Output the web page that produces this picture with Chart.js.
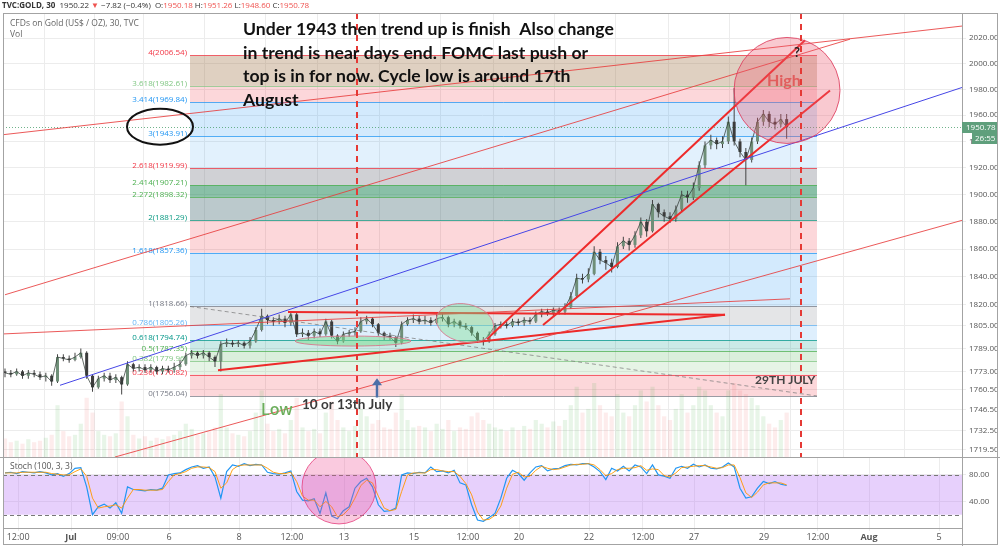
<!DOCTYPE html>
<html>
<head>
<meta charset="utf-8">
<title>TVC:GOLD, 30</title>
<script src="https://cdn.jsdelivr.net/npm/chart.js@4.4.1/dist/chart.umd.min.js"></script>
<style>
  html, body { margin: 0; padding: 0; background: #fff; }
  #wrap { position: relative; width: 1000px; height: 546px; overflow: hidden; font-family: "Open Sans", sans-serif; }
  canvas { position: absolute; left: 0; }
  #priceCanvas { top: 0; }
  #stochCanvas { top: 457px; }
  #frame { position: absolute; left: 3px; top: 13px; width: 995px; height: 532px; box-sizing: border-box; border: 1px solid #a3a3a3; pointer-events: none; }
  #hdr { position: absolute; left: 2px; top: -1px; font-size: 8px; line-height: 12px; color: #333; white-space: nowrap; }
  #hdr .r { color: #ef5350; }
  #legend { position: absolute; left: 10px; top: 17px; font-size: 8.5px; line-height: 11px; color: #666; }
</style>
</head>
<body>
<div id="wrap">
  <canvas id="priceCanvas" width="1000" height="457"></canvas>
  <canvas id="stochCanvas" width="1000" height="89"></canvas>
  <div id="frame"></div>
  <div id="hdr"><b>TVC:GOLD, 30</b>&nbsp; 1950.22 <span class="r">▼</span> −7.82 (−0.4%)&nbsp; O:<span class="r">1950.18</span> H:<span class="r">1951.26</span> L:<span class="r">1948.60</span> C:<span class="r">1950.78</span></div>
  <div id="legend">CFDs on Gold (US$ / OZ), 30, TVC<br>Vol</div>
</div>
<script>
// time unit = trading days, 0 = Jul 6; one candle every 4 hours
const firstDay = -4.686;
const barStep = 1 / 6;
const firstOpen = 1773;

const closes = [
  1772,1771,1773,1770,1772,1771,1769,1770,1766,1783,
  1782,1781,1783,1786,1770,1762,1768,1770,1767,1769,
  1764,1778,1775,1776,1774,1776,1773,1775,1774,1776,
  1778,1784,1786,1784,1786,1783,1780,1792,1793,1792,
  1793,1791,1794,1802,1812,1809,1808,1810,1807,1813,
  1799,1800,1798,1801,1799,1808,1798,1794,1799,1800,
  1801,1808,1810,1806,1800,1798,1797,1793,1806,1809,
  1810,1808,1809,1807,1810,1811,1806,1808,1805,1804,
  1800,1795,1794,1799,1805,1806,1805,1808,1807,1809,
  1808,1813,1815,1814,1816,1815,1818,1826,1839,1838,
  1842,1858,1852,1850,1847,1862,1866,1863,1870,1880,
  1873,1893,1887,1884,1882,1889,1900,1898,1905,1922,
  1937,1941,1938,1940,1955,1940,1932,1926,1940,1955,
  1961,1955,1953,1957,1950.78
];
const highs = [
  1775,1774,1775,1774,1774,1774,1773,1772,1771,1785,
  1785,1784,1786,1789,1787,1771,1770,1772,1772,1771,
  1770,1780,1779,1778,1778,1778,1777,1777,1777,1779,
  1781,1786,1788,1787,1788,1787,1784,1794,1796,1795,
  1795,1794,1797,1804,1817,1813,1811,1813,1812,1815,
  1814,1803,1802,1803,1803,1810,1809,1799,1801,1802,
  1804,1811,1812,1811,1807,1801,1800,1798,1808,1811,
  1813,1812,1812,1811,1813,1814,1812,1810,1809,1807,
  1805,1801,1797,1801,1807,1808,1808,1810,1810,1811,
  1811,1815,1817,1817,1818,1818,1821,1829,1842,1842,
  1846,1862,1860,1855,1853,1865,1869,1868,1873,1883,
  1882,1896,1894,1889,1887,1892,1903,1903,1909,1925,
  1940,1945,1943,1944,1959,1981,1942,1935,1943,1958,
  1964,1963,1958,1961,1961
];
const lows = [
  1769,1769,1770,1768,1768,1769,1767,1766,1763,1765,
  1780,1779,1780,1782,1768,1759,1761,1766,1765,1765,
  1757,1763,1773,1773,1772,1772,1771,1771,1772,1772,
  1774,1777,1782,1782,1782,1780,1776,1773,1790,1790,
  1790,1789,1789,1793,1801,1806,1805,1806,1804,1805,
  1797,1797,1795,1796,1797,1798,1796,1792,1793,1797,
  1798,1800,1806,1804,1798,1795,1795,1790,1792,1805,
  1807,1806,1806,1805,1806,1808,1804,1804,1803,1802,
  1798,1793,1791,1793,1798,1803,1803,1804,1805,1805,
  1806,1807,1811,1812,1812,1813,1813,1817,1825,1835,
  1836,1841,1849,1845,1843,1846,1860,1859,1861,1868,
  1869,1872,1883,1880,1879,1880,1887,1894,1896,1903,
  1920,1934,1934,1935,1938,1937,1928,1907,1924,1938,
  1952,1951,1949,1951,1942
];
const volumes = [
  25,20,22,18,24,20,22,26,30,70,
  35,28,30,45,80,60,35,30,28,32,
  75,55,30,25,28,22,26,24,28,30,
  35,45,38,30,32,35,40,85,40,32,
  30,28,35,60,90,45,35,38,32,50,
  80,40,35,38,32,60,75,50,40,35,
  42,65,55,45,50,40,38,60,85,50,
  40,42,40,35,45,38,50,35,40,38,
  55,60,50,45,40,38,35,40,36,42,
  38,50,45,40,48,42,50,70,95,60,
  65,100,70,60,55,85,60,55,70,90,
  75,95,70,55,50,65,85,60,70,95,
  90,70,60,55,90,100,90,85,80,70,
  55,45,40,50,60
];
const stochK = [
  83,84,82,85,84,83,85,83,80,82,
  78,82,90,91,62,20,32,36,30,38,
  22,62,58,57,56,58,57,60,80,82,
  83,88,92,94,90,92,77,45,85,95,
  93,97,94,96,95,84,82,81,83,86,
  55,42,41,44,22,53,18,14,26,32,
  60,70,75,62,35,25,26,30,80,83,
  82,84,83,92,85,86,83,87,68,65,
  35,12,10,16,22,45,75,87,82,72,
  83,92,94,86,89,90,94,96,95,97,
  97,92,85,73,90,86,93,86,95,92,
  82,95,80,78,75,90,93,90,96,92,
  95,90,89,92,98,92,60,45,47,60,
  70,67,70,66,64
];
const stochD = [
  83,83,83,84,84,84,84,84,82,81,
  80,80,85,89,78,45,30,32,33,35,
  30,45,58,58,57,57,57,58,70,80,
  82,85,90,92,92,91,85,60,68,88,
  94,95,95,95,95,90,84,82,82,84,
  70,48,42,42,32,40,32,17,20,29,
  45,64,72,68,48,30,26,28,55,80,
  83,83,83,88,88,86,85,85,78,67,
  50,24,12,13,19,33,60,81,84,77,
  78,87,93,90,88,89,92,95,96,96,
  97,95,88,79,82,88,90,90,91,94,
  87,89,88,79,77,83,91,92,93,94,
  94,92,90,91,95,95,76,53,46,54,
  65,68,68,68,65
];
const lastPrice = 1950.78;

const timeTickPos = [-4.31, -2.8, -1.46, 0, 2, 3.51, 5, 7, 8.54, 10, 12, 13.54, 15, 17, 18.54, 20, 22];
const timeTickText = ['12:00', 'Jul', '09:00', '6', '8', '12:00', '13', '15', '12:00', '20', '22', '12:00', '27', '29', '12:00', 'Aug', '5'];
const priceTicks = [2020, 2000, 1980, 1960, 1940, 1920, 1900, 1880, 1860, 1840, 1820, 1805, 1789, 1773, 1760.5, 1746.5, 1732.5, 1719.5];
const stochTicks = [80, 40];
const stochBand = [20, 80];

const fibLevels = [0, 0.236, 0.382, 0.5, 0.618, 0.786, 1, 1.618, 2, 2.272, 2.414, 2.618, 3, 3.414, 3.618, 4];
const fibPrices = [1756.04, 1770.82, 1779.96, 1787.35, 1794.74, 1805.26, 1818.66, 1857.36, 1881.29, 1898.32, 1907.21, 1919.99, 1943.91, 1969.84, 1982.61, 2006.54];
const fibSpan = [0.6, 18.514];

// drawings: [day, price] end points
const trendLines = [
  { from: [-4.743, 1799.2], to: [17.743, 1824.1], color: 'rgba(232,60,60,0.85)', width: 1 },
  { from: [-1.543, 1714.6], to: [22.657, 1881.0], color: 'rgba(232,60,60,0.85)', width: 1 },
  { from: [-4.686, 1827.0], to: [19.457, 2019.2], color: 'rgba(232,60,60,0.85)', width: 1 },
  { from: [-4.743, 1945.1], to: [22.657, 2029.6], color: 'rgba(232,60,60,0.85)', width: 1 },
  { from: [-3.114, 1763.4], to: [22.657, 1981.4], color: '#4646e6', width: 1 },
  { from: [9.086, 1795.6], to: [18.171, 2018.4], color: '#ee2a2a', width: 2 },
  { from: [10.686, 1805.5], to: [18.886, 1979.1], color: '#ee2a2a', width: 2 },
  { from: [3.4, 1814.8], to: [15.886, 1812.7], color: '#ee2a2a', width: 2 },
  { from: [1.4, 1773.8], to: [15.886, 1812.7], color: '#ee2a2a', width: 2 },
  { from: [0.6, 1818.66], to: [18.514, 1756.04], color: 'rgba(120,120,120,0.7)', width: 1, dash: [4, 3] }
];
const markDays = [5.371, 18.057];

const fibBandColors = [
  'rgba(242,54,69,0.2)', 'rgba(129,199,132,0.2)', 'rgba(76,175,80,0.2)', 'rgba(0,150,136,0.2)',
  'rgba(33,150,243,0.15)', 'rgba(120,123,134,0.2)', 'rgba(33,150,243,0.2)', 'rgba(242,54,69,0.2)',
  'rgba(60,100,110,0.35)', 'rgba(20,130,80,0.5)', 'rgba(120,123,134,0.35)', 'rgba(33,150,243,0.13)',
  'rgba(33,150,243,0.2)', 'rgba(242,54,69,0.2)', 'rgba(150,100,50,0.3)'
];
const fibLineColors = ['#787b86', '#f23645', '#81c784', '#4caf50', '#009688', '#64b5f6', '#787b86', '#2196f3',
  '#089981', '#4caf50', '#4caf50', '#f23645', '#2196f3', '#2196f3', '#81c784', '#f23645'];

const shapes = [
  { at: [17.657, 1979.1], rx: 53, ry: 53, rot: 0, fill: 'rgba(236,92,112,0.33)', stroke: 'rgba(222,64,96,0.85)', lw: 1 },
  { at: [8.457, 1806.9], rx: 29, ry: 19, rot: 0.2, fill: 'rgba(120,220,140,0.4)', stroke: 'rgba(214,120,140,0.9)', lw: 1 },
  { at: [5.257, 1794.2], rx: 58, ry: 5, rot: 0, fill: 'rgba(120,220,140,0.5)', stroke: 'rgba(214,120,140,0.9)', lw: 1 },
  { at: [-0.257, 1951.2], rx: 33, ry: 18, rot: 0, fill: null, stroke: '#111', lw: 2 }
];
const notes = [
  { text: 'High', at: [17.086, 1982.2], font: 'bold 16px Lato', color: 'rgba(224,80,80,0.85)' },
  { text: '?', at: [17.857, 2004.9], font: 'bold 13px Lato', color: '#222' },
  { text: 'Low', at: [2.629, 1742.9], font: '600 16px "Open Sans"', color: '#6cae5c' },
  { text: '10 or 13th July', at: [3.8, 1747.4], font: 'bold 13.5px Lato', color: '#3a3a3a' },
  { text: '29TH JULY', at: [16.743, 1764.1], font: 'bold 12px Lato', color: '#444' }
];
const commentLines = [
  'Under 1943 then trend up is finish  Also change',
  'in trend is near days end. FOMC last push or',
  'top is in for now. Cycle low is around 17th',
  'August'
];
const commentAt = [2.114, 2022.4];
const arrowSpan = [5.943, 1755, 1768.3];

const days = closes.map((c, i) => firstDay + i * barStep);
const opens = closes.map((c, i) => i ? closes[i - 1] : firstOpen);
const isUp = closes.map((c, i) => c >= opens[i]);

const gridColor = '#ececec';
const axisColor = '#a3a3a3';

function timeAxis(showLabels) {
  return {
    type: 'linear', min: -4.743, max: 22.657, offset: false,
    afterBuildTicks: s => { s.ticks = timeTickPos.map(v => ({ value: v })); },
    afterFit: s => { s.height = showLabels ? 16 : 0; s.paddingLeft = 0; s.paddingRight = 0; },
    ticks: {
      display: showLabels, autoSkip: false, maxRotation: 0, padding: 1, color: '#555',
      font: c => ({ family: 'Open Sans', size: 9, weight: (timeTickText[c.index] === 'Jul' || timeTickText[c.index] === 'Aug') ? 'bold' : 'normal' }),
      callback: (v, i) => timeTickText[i]
    },
    grid: { color: gridColor, drawTicks: showLabels, tickLength: 3 },
    border: { display: showLabels, color: axisColor }
  };
}

function rightAxis(opts) {
  return Object.assign({
    position: 'right',
    afterFit: s => { s.width = 35; s.paddingTop = 0; s.paddingBottom = 0; },
    ticks: { autoSkip: false, color: '#555', padding: 3, font: { family: 'Open Sans', size: 8 }, callback: v => Number(v).toFixed(2) },
    grid: { color: gridColor, tickLength: 4 },
    border: { color: axisColor }
  }, opts);
}

function ellipse(ctx, cx, cy, s) {
  ctx.beginPath();
  ctx.ellipse(cx, cy, s.rx, s.ry, s.rot, 0, Math.PI * 2);
  if (s.fill) { ctx.fillStyle = s.fill; ctx.fill(); }
  if (s.stroke) { ctx.strokeStyle = s.stroke; ctx.lineWidth = s.lw; ctx.stroke(); }
}

const drawings = {
  id: 'drawings',
  beforeDatasetsDraw(chart) {
    const { ctx, chartArea: a, scales: { x, y } } = chart;
    ctx.save();
    ctx.beginPath(); ctx.rect(a.left, a.top, a.width, a.height); ctx.clip();
    const fx0 = x.getPixelForValue(fibSpan[0]), fx1 = x.getPixelForValue(fibSpan[1]);
    for (let i = 1; i < fibPrices.length; i++) {
      const top = y.getPixelForValue(fibPrices[i]);
      const bot = y.getPixelForValue(fibPrices[i - 1]);
      ctx.fillStyle = fibBandColors[i - 1];
      ctx.fillRect(fx0, top, fx1 - fx0, bot - top);
    }
    ctx.lineWidth = 1;
    ctx.font = '8px "Open Sans"';
    ctx.textAlign = 'right';
    ctx.textBaseline = 'alphabetic';
    fibPrices.forEach((p, i) => {
      const py = Math.round(y.getPixelForValue(p)) + 0.5;
      ctx.strokeStyle = fibLineColors[i];
      ctx.globalAlpha = 0.75;
      ctx.beginPath(); ctx.moveTo(fx0, py); ctx.lineTo(fx1, py); ctx.stroke();
      ctx.globalAlpha = 1;
      ctx.fillStyle = fibLineColors[i];
      ctx.fillText(fibLevels[i] + '(' + p.toFixed(2) + ')', fx0 - 3, py - 1);
    });
    const ly = Math.round(y.getPixelForValue(lastPrice)) + 0.5;
    ctx.setLineDash([1, 2]);
    ctx.strokeStyle = 'rgba(76,160,110,0.8)';
    ctx.beginPath(); ctx.moveTo(a.left, ly); ctx.lineTo(a.right, ly); ctx.stroke();
    ctx.restore();
  },
  afterDatasetsDraw(chart) {
    const { ctx, chartArea: a, scales: { x, y } } = chart;
    ctx.save();
    ctx.beginPath(); ctx.rect(a.left, a.top, a.width, a.height); ctx.clip();
    shapes.forEach(s => ellipse(ctx, x.getPixelForValue(s.at[0]), y.getPixelForValue(s.at[1]), s));
    ctx.setLineDash([6, 5]);
    ctx.strokeStyle = '#e53935';
    ctx.lineWidth = 2;
    markDays.forEach(d => {
      const px = Math.round(x.getPixelForValue(d));
      ctx.beginPath(); ctx.moveTo(px, a.top); ctx.lineTo(px, a.bottom); ctx.stroke();
    });
    ctx.setLineDash([]);
    // arrow
    const ax = x.getPixelForValue(arrowSpan[0]);
    const ay0 = y.getPixelForValue(arrowSpan[1]), ay1 = y.getPixelForValue(arrowSpan[2]);
    ctx.strokeStyle = '#4b6fa8'; ctx.fillStyle = '#4b6fa8'; ctx.lineWidth = 2.5;
    ctx.beginPath(); ctx.moveTo(ax, ay0); ctx.lineTo(ax, ay1 + 5); ctx.stroke();
    ctx.beginPath(); ctx.moveTo(ax, ay1); ctx.lineTo(ax - 5, ay1 + 7); ctx.lineTo(ax + 5, ay1 + 7); ctx.closePath(); ctx.fill();
    // notes
    ctx.textAlign = 'left';
    ctx.textBaseline = 'alphabetic';
    notes.forEach(n => {
      ctx.font = n.font; ctx.fillStyle = n.color;
      ctx.fillText(n.text, x.getPixelForValue(n.at[0]), y.getPixelForValue(n.at[1]));
    });
    ctx.font = 'bold 17.6px Lato';
    ctx.fillStyle = '#111';
    const cx = x.getPixelForValue(commentAt[0]), cy = y.getPixelForValue(commentAt[1]);
    commentLines.forEach((t, i) => ctx.fillText(t, cx, cy + i * 23.5));
    ctx.restore();
  },
  afterDraw(chart) {
    const { ctx, chartArea: a, scales: { y } } = chart;
    const ly = Math.round(y.getPixelForValue(lastPrice));
    ctx.save();
    ctx.fillStyle = '#5f9f7c';
    ctx.fillRect(a.right, ly - 5, 35, 11);
    ctx.fillRect(a.right + 10, ly + 6, 25, 11);
    ctx.fillStyle = '#fff';
    ctx.font = '8px "Open Sans"';
    ctx.textAlign = 'left';
    ctx.textBaseline = 'middle';
    ctx.fillText(lastPrice.toFixed(2), a.right + 4, ly + 0.5);
    ctx.fillText('26:55', a.right + 13, ly + 11.5);
    ctx.restore();
  }
};

new Chart(document.getElementById('priceCanvas'), {
  type: 'bar',
  data: {
    datasets: [
      ...trendLines.map(t => ({
        type: 'line', yAxisID: 'y', order: 0,
        data: [{ x: t.from[0], y: t.from[1] }, { x: t.to[0], y: t.to[1] }],
        borderColor: t.color, borderWidth: t.width, borderDash: t.dash || [], pointRadius: 0
      })),
      {
        type: 'line', label: 'close', yAxisID: 'y', order: 1,
        data: days.map((d, i) => ({ x: d, y: closes[i] })),
        borderColor: 'rgba(50,60,55,0.75)', borderWidth: 1, pointRadius: 0
      },
      {
        label: 'body', yAxisID: 'y', order: 2, maxBarThickness: 3, minBarLength: 1,
        data: days.map((d, i) => ({ x: d, y: [opens[i], closes[i]] })),
        backgroundColor: isUp.map(u => u ? '#6f8f78' : '#3c3c3c')
      },
      {
        label: 'wick', yAxisID: 'y', order: 3, maxBarThickness: 1,
        data: days.map((d, i) => ({ x: d, y: [lows[i], highs[i]] })),
        backgroundColor: '#444'
      },
      {
        label: 'Vol', yAxisID: 'vol', order: 5, maxBarThickness: 5,
        data: days.map((d, i) => ({ x: d, y: volumes[i] })),
        backgroundColor: isUp.map(u => u ? 'rgba(76,175,80,0.13)' : 'rgba(239,83,80,0.11)')
      }
    ]
  },
  options: {
    responsive: false, animation: false, events: [],
    datasets: { bar: { grouped: false } },
    layout: { padding: { left: 3, right: 3, top: 13, bottom: 0 } },
    plugins: { legend: { display: false }, tooltip: { enabled: false } },
    scales: {
      x: timeAxis(false),
      y: rightAxis({
        type: 'logarithmic', min: 1714.6, max: 2040,
        afterBuildTicks: s => { s.ticks = priceTicks.map(v => ({ value: v })); }
      }),
      vol: { type: 'linear', display: false, min: 0, max: 600 }
    }
  },
  plugins: [drawings]
});

const stochDrawings = {
  id: 'stochDrawings',
  beforeDatasetsDraw(chart) {
    const { ctx, chartArea: a, scales: { y } } = chart;
    const yHi = y.getPixelForValue(stochBand[1]), yLo = y.getPixelForValue(stochBand[0]);
    ctx.save();
    ctx.fillStyle = 'rgba(175,100,245,0.3)';
    ctx.fillRect(a.left, yHi, a.width, yLo - yHi);
    ctx.setLineDash([4, 3]);
    ctx.strokeStyle = '#777';
    ctx.lineWidth = 1;
    [yHi, yLo].forEach(py => {
      ctx.beginPath(); ctx.moveTo(a.left, Math.round(py) + 0.5); ctx.lineTo(a.right, Math.round(py) + 0.5); ctx.stroke();
    });
    ctx.restore();
  },
  afterDatasetsDraw(chart) {
    const { ctx, chartArea: a, scales: { x, y } } = chart;
    ctx.save();
    ctx.beginPath(); ctx.rect(a.left, a.top, a.width, a.height); ctx.clip();
    ellipse(ctx, x.getPixelForValue(4.857), y.getPixelForValue(61.9),
      { rx: 37, ry: 37, rot: 0, fill: 'rgba(240,80,150,0.3)', stroke: 'rgba(230,70,130,0.85)', lw: 1 });
    ctx.fillStyle = '#555';
    ctx.font = '8.5px "Open Sans"';
    ctx.textBaseline = 'middle';
    ctx.fillText('Stoch (100, 3, 3)', a.left + 7, a.top + 10);
    ctx.restore();
  },
  afterDraw(chart) {
    const { ctx, chartArea: a } = chart;
    ctx.save();
    ctx.strokeStyle = axisColor;
    ctx.lineWidth = 1;
    ctx.beginPath();
    ctx.moveTo(0, a.top + 0.5); ctx.lineTo(chart.width, a.top + 0.5);
    ctx.moveTo(a.right + 0.5, a.top); ctx.lineTo(a.right + 0.5, chart.height);
    ctx.stroke();
    ctx.restore();
  }
};

new Chart(document.getElementById('stochCanvas'), {
  type: 'line',
  data: {
    datasets: [
      { label: '%D', data: days.map((d, i) => ({ x: d, y: stochD[i] })), borderColor: 'rgba(255,152,0,0.9)', borderWidth: 1, pointRadius: 0, order: 0 },
      { label: '%K', data: days.map((d, i) => ({ x: d, y: stochK[i] })), borderColor: '#2196f3', borderWidth: 1.2, pointRadius: 0, order: 1 }
    ]
  },
  options: {
    responsive: false, animation: false, events: [],
    layout: { padding: { left: 3, right: 3, top: 0, bottom: 2 } },
    plugins: { legend: { display: false }, tooltip: { enabled: false } },
    scales: {
      x: timeAxis(true),
      y: rightAxis({
        type: 'linear', min: 0, max: 107,
        afterBuildTicks: s => { s.ticks = stochTicks.map(v => ({ value: v })); }
      })
    }
  },
  plugins: [stochDrawings]
});
</script>
</body>
</html>
